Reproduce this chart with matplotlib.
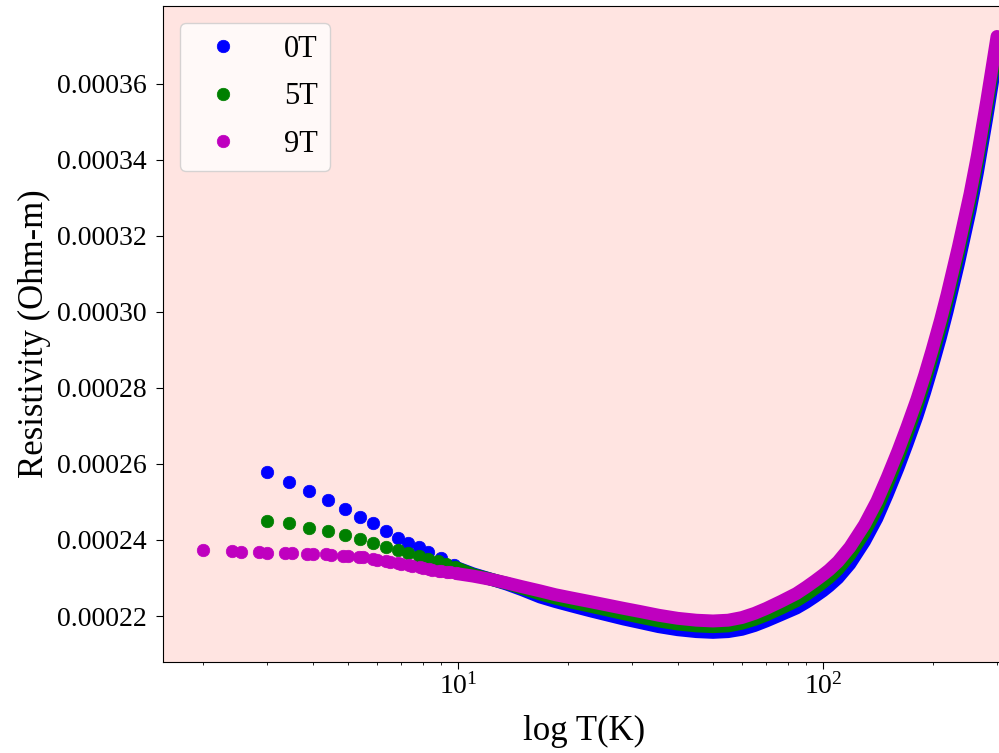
import matplotlib
matplotlib.use("Agg")
import matplotlib.pyplot as plt
from matplotlib.ticker import FormatStrFormatter

plt.rcParams['font.family'] = ['Liberation Serif', 'DejaVu Serif']
plt.rcParams['mathtext.fontset'] = 'stix'

# low temperature points (separate dots)
T_lo_0T = [3.0, 3.45, 3.9, 4.4, 4.9, 5.4, 5.85, 6.35, 6.85, 7.3, 7.8, 8.3, 9.0, 9.75]
rho_lo_0T = [0.0002579, 0.0002553, 0.0002529, 0.0002505, 0.0002482, 0.0002461, 0.0002445,
             0.0002424, 0.0002405, 0.0002392, 0.0002382, 0.0002368, 0.0002353, 0.0002334]

T_lo_5T = [3.0, 3.45, 3.9, 4.4, 4.9, 5.4, 5.85, 6.35, 6.85, 7.3, 7.8, 8.3, 8.8, 9.3, 9.8]
rho_lo_5T = [0.0002450, 0.0002445, 0.0002432, 0.0002424, 0.0002413, 0.0002403, 0.0002392,
             0.0002382, 0.0002374, 0.0002366, 0.0002358, 0.0002350, 0.0002345, 0.0002337, 0.0002329]

T_lo_9T = [2.0, 2.4, 2.55, 2.85, 3.0, 3.35, 3.5, 3.85, 4.0, 4.35, 4.5, 4.85, 5.0, 5.35, 5.5,
           5.85, 6.0, 6.35, 6.5, 6.85, 7.0, 7.35, 7.5, 7.85, 8.0, 8.35, 8.5, 8.85, 9.0, 9.35, 9.5, 9.85]
rho_lo_9T = [0.0002374, 0.0002370, 0.0002369, 0.0002368, 0.0002367, 0.0002366, 0.0002366,
             0.0002364, 0.0002363, 0.0002362, 0.0002361, 0.0002359, 0.0002358, 0.0002355,
             0.0002354, 0.0002350, 0.0002348, 0.0002345, 0.0002343, 0.0002340, 0.0002338,
             0.0002334, 0.0002332, 0.0002328, 0.0002326, 0.0002324, 0.0002322, 0.0002319,
             0.0002318, 0.0002316, 0.0002315, 0.0002313]

# dense part (points merge into a band)
T_hi = [10, 11, 12.5, 13.6, 15, 16.8, 18.5, 20.6, 23, 25.6, 28.5, 31.5, 35.5, 40, 45, 50, 55,
        60, 65, 70, 77, 84.6, 90, 95, 100, 104, 110, 118.6, 130, 140.6, 150, 160.6, 170, 181,
        190, 199, 210, 219, 235, 253, 265, 281, 290, 300]
rho_hi_0T = [0.0002326, 0.0002311, 0.0002295, 0.0002284, 0.0002269, 0.0002250, 0.0002238,
             0.0002226, 0.0002214, 0.0002203, 0.0002192, 0.0002183, 0.0002172, 0.0002164,
             0.0002159, 0.0002157, 0.0002159, 0.0002165, 0.0002175, 0.0002187, 0.0002204,
             0.0002221, 0.0002236, 0.0002251, 0.0002266, 0.0002279, 0.0002300, 0.0002337,
             0.0002396, 0.0002457, 0.0002519, 0.0002589, 0.0002652, 0.0002725, 0.0002788,
             0.0002853, 0.0002933, 0.0003001, 0.0003125, 0.0003265, 0.0003365, 0.0003508,
             0.0003590, 0.0003679]
rho_hi_5T = [0.0002325, 0.0002309, 0.0002295, 0.0002286, 0.0002273, 0.0002258, 0.0002247,
             0.0002236, 0.0002226, 0.0002216, 0.0002206, 0.0002197, 0.0002187, 0.0002179,
             0.0002174, 0.0002172, 0.0002174, 0.0002181, 0.0002191, 0.0002203, 0.0002221,
             0.0002240, 0.0002256, 0.0002272, 0.0002288, 0.0002301, 0.0002323, 0.0002361,
             0.0002420, 0.0002482, 0.0002545, 0.0002615, 0.0002678, 0.0002752, 0.0002815,
             0.0002880, 0.0002960, 0.0003029, 0.0003153, 0.0003293, 0.0003393, 0.0003536,
             0.0003618, 0.0003708]
rho_hi_9T = [0.0002311, 0.0002305, 0.0002295, 0.0002287, 0.0002277, 0.0002266, 0.0002256,
             0.0002247, 0.0002238, 0.0002229, 0.0002220, 0.0002212, 0.0002202, 0.0002194,
             0.0002189, 0.0002187, 0.0002189, 0.0002196, 0.0002207, 0.0002220, 0.0002239,
             0.0002259, 0.0002276, 0.0002292, 0.0002308, 0.0002321, 0.0002343, 0.0002381,
             0.0002440, 0.0002502, 0.0002564, 0.0002634, 0.0002697, 0.0002770, 0.0002833,
             0.0002898, 0.0002978, 0.0003046, 0.0003170, 0.0003310, 0.0003410, 0.0003553,
             0.0003635, 0.0003724]

labels = ['0T', '5T', '9T']
colors = ['b', 'g', 'm']

fig = plt.figure(figsize=(9.99, 7.53), dpi=100)
# axes run a bit past the right edge of the figure, like the cropped original
ax = fig.add_axes([0.1632, 0.1208, 0.8428, 0.8712])
ax.set_facecolor('mistyrose')

series = [(T_lo_0T, rho_lo_0T, rho_hi_0T), (T_lo_5T, rho_lo_5T, rho_hi_5T), (T_lo_9T, rho_lo_9T, rho_hi_9T)]
for (t_lo, r_lo, r_hi), lab, c in zip(series, labels, colors):
  ax.plot(t_lo, r_lo, 'o', color=c, ms=9, mew=0.5, label=lab)
  ax.plot(T_hi, r_hi, '-', color=c, lw=9.3, solid_capstyle='round', solid_joinstyle='round')

ax.set_xscale('log')
ax.set_xlim(10**0.192, 10**2.499)
ax.set_ylim(0.0002079, 0.0003804)
ax.set_yticks([0.00022, 0.00024, 0.00026, 0.00028, 0.00030, 0.00032, 0.00034, 0.00036])
ax.yaxis.set_major_formatter(FormatStrFormatter('%.5f'))
ax.tick_params(axis='both', which='major', labelsize=20)
ax.tick_params(axis='y', which='major', length=5, pad=7)
ax.tick_params(axis='x', which='major', length=5, pad=3)
ax.set_xlabel('log T(K)', fontsize=25, labelpad=11)
ax.set_ylabel('Resistivity (Ohm-m)', fontsize=25)

ax.legend(loc='upper left', fontsize=22, handletextpad=1.0, labelspacing=0.6, borderaxespad=0.55)

fig.savefig('out.png', dpi=100)
